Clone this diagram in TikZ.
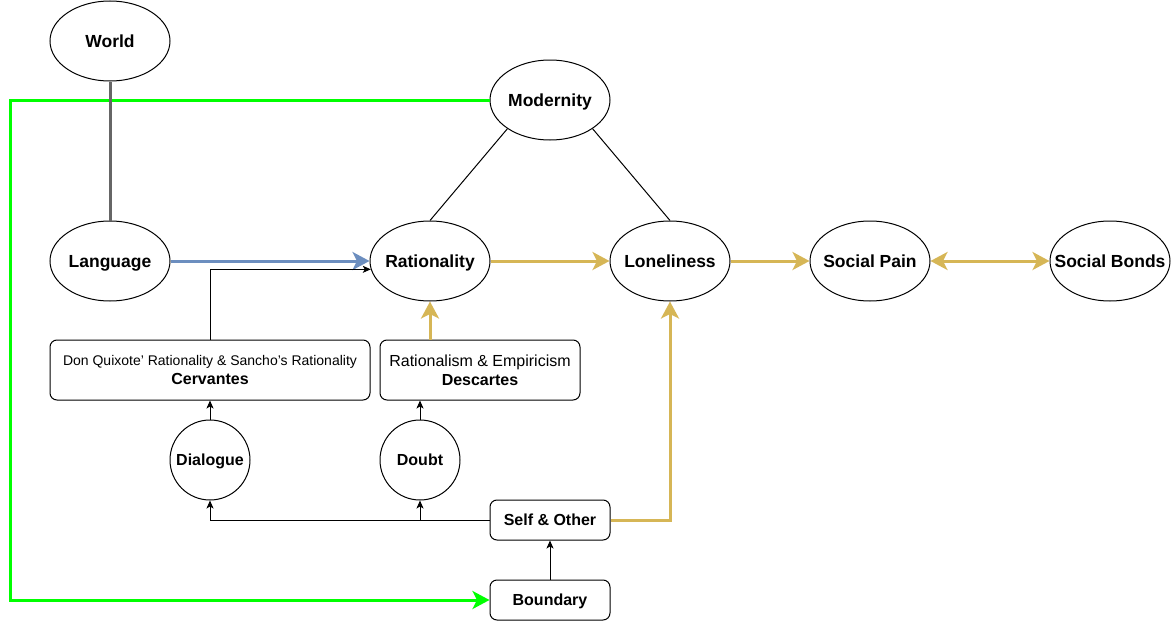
\documentclass[tikz,border=0pt]{standalone}
\usepackage{fontspec}
\setmainfont{Liberation Sans}
\usetikzlibrary{shapes.geometric,arrows.meta}
\definecolor{goldc}{HTML}{D6B656}
\definecolor{bluec}{HTML}{6C8EBF}
\definecolor{greenc}{HTML}{00FF00}
\definecolor{grayc}{HTML}{666666}
\newcommand{\zw}[1]{\makebox[0pt][c]{#1}}
\tikzset{
  ell/.style={ellipse,draw=black,line width=1pt,fill=white,minimum width=120pt,minimum height=80pt,inner sep=0pt,text height=12.6pt,text depth=0pt,font=\fontsize{17.5}{20}\selectfont\bfseries},
  circ/.style={circle,draw=black,line width=1pt,fill=white,minimum size=80pt,inner sep=0pt,text height=11.5pt,text depth=0pt,font=\fontsize{16}{19}\selectfont\bfseries},
  rbox/.style={rectangle,rounded corners=7pt,draw=black,line width=1pt,fill=white,inner sep=0pt,align=center},
  sbox/.style={rbox,minimum width=120pt,minimum height=40pt,text height=11.5pt,text depth=0pt,font=\fontsize{16}{19}\selectfont\bfseries},
  bigtip/.tip={Stealth[length=17pt,width=18pt,inset=4.5pt]},
  smalltip/.tip={Stealth[length=8pt,width=7pt,inset=2pt]},
  thick3/.style={line width=3pt},
  thin/.style={line width=1pt,draw=black},
}
\begin{document}
\begin{tikzpicture}[x=1pt,y=-1pt]
\useasboundingbox (0,0) rectangle (1171,621);
% nodes
\node[ell] (world) at (110,41) {\zw{World}};
\node[ell] (mod) at (550,100) {\zw{Modernity}};
\node[ell] (lang) at (110,261) {\zw{Language}};
\node[ell] (rat) at (430,261) {\zw{Rationality}};
\node[ell] (lone) at (670,261) {\zw{Loneliness}};
\node[ell] (pain) at (870,261) {\zw{Social Pain}};
\node[ell] (bonds) at (1110,261) {\zw{Social Bonds}};
\node[rbox,minimum width=320pt,minimum height=60pt,font=\fontsize{14}{18.5}\selectfont] (cerv) at (210,370)
  {Don Quixote' Rationality \& Sancho's Rationality\\{\fontsize{16}{18.5}\selectfont\bfseries Cervantes}};
\node[rbox,minimum width=200pt,minimum height=60pt,font=\fontsize{16}{19}\selectfont] (desc) at (480,370)
  {Rationalism \& Empiricism\\{\bfseries Descartes}};
\node[circ] (dia) at (210,460) {Dialogue};
\node[circ] (doubt) at (420,460) {Doubt};
\node[sbox] (self) at (550,520) {Self \& Other};
\node[sbox] (bound) at (550,600) {Boundary};
\coordinate (gl) at (10,100);
% connectors
\draw[thick3,draw=greenc,-{bigtip[fill=greenc]}] (mod.west) -- (gl) |- (bound.west);
\draw[thick3,draw=grayc] (world) -- (lang);
\draw[thin] (mod.214) -- (rat.north);
\draw[thin] (mod.326) -- (lone.north);
\draw[thick3,draw=bluec,-{bigtip[fill=bluec]}] (lang) -- (rat);
\draw[thick3,draw=goldc,-{bigtip[fill=goldc]}] (rat) -- (lone);
\draw[thick3,draw=goldc,-{bigtip[fill=goldc]}] (lone) -- (pain);
\draw[thick3,draw=goldc,{bigtip[fill=goldc]}-{bigtip[fill=goldc]}] (pain) -- (bonds);
\draw[thick3,draw=goldc,-{bigtip[fill=goldc]}] (rat.south |- desc.north) -- (rat.south);
\draw[thick3,draw=goldc,-{bigtip[fill=goldc]}] (self.east) -| (lone.south);
\draw[thin,-{smalltip}] (cerv.north) |- (rat.188.75);
\draw[thin,-{smalltip}] (dia) -- (cerv);
\draw[thin,-{smalltip}] (doubt.north) -- (doubt.north |- desc.south);
\draw[thin,-{smalltip}] (self.west) -| (dia.south);
\draw[thin,-{smalltip}] (self.west) -| (doubt.south);
\draw[thin,-{smalltip}] (bound) -- (self);
\end{tikzpicture}
\end{document}
